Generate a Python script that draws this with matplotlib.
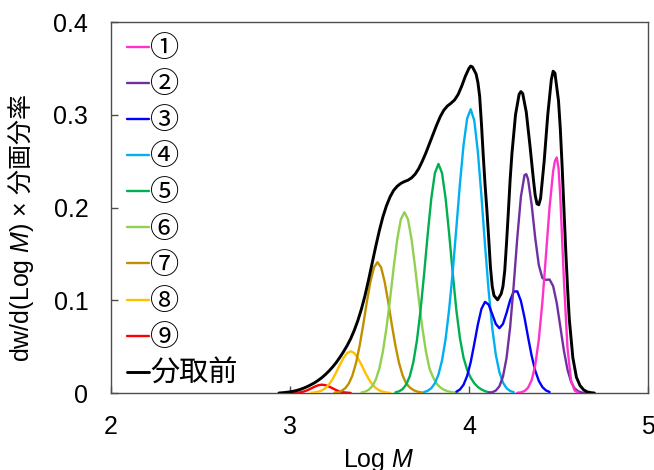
import matplotlib
matplotlib.use('Agg')
from matplotlib import pyplot as plt

# fraction curves (Log M, dw/d(Log M) x fraction ratio)
f1_x = [4.27, 4.29, 4.31, 4.33, 4.35, 4.37, 4.39, 4.41, 4.43, 4.45, 4.47, 4.48, 4.49, 4.50, 4.51, 4.53, 4.55, 4.57, 4.59, 4.61]
f1_y = [0.0002, 0.0007, 0.0021, 0.0057, 0.0138, 0.0299, 0.0575, 0.0981, 0.1487, 0.2002, 0.2393, 0.2502, 0.2540, 0.2426, 0.2114, 0.1218, 0.0486, 0.0135, 0.0026, 0.0003]

f2_x = [4.11, 4.13, 4.15, 4.17, 4.19, 4.21, 4.23, 4.25, 4.27, 4.29, 4.31, 4.32, 4.33, 4.35, 4.37, 4.39, 4.41, 4.43, 4.45, 4.47, 4.49, 4.51, 4.53, 4.55, 4.57, 4.59, 4.61, 4.63, 4.65]
f2_y = [0.0002, 0.0008, 0.0026, 0.0072, 0.0177, 0.0378, 0.0709, 0.1164, 0.1675, 0.2115, 0.2348, 0.2360, 0.2305, 0.2032, 0.1672, 0.1380, 0.1239, 0.1220, 0.1224, 0.1153, 0.0972, 0.0716, 0.0457, 0.0253, 0.0121, 0.0050, 0.0018, 0.0005, 0.0001]

f3_x = [3.93, 3.95, 3.97, 3.99, 4.01, 4.03, 4.05, 4.07, 4.09, 4.11, 4.13, 4.15, 4.17, 4.19, 4.21, 4.23, 4.25, 4.27, 4.29, 4.31, 4.33, 4.35, 4.37, 4.39, 4.41, 4.43, 4.45]
f3_y = [0.0014, 0.0038, 0.0089, 0.0184, 0.0333, 0.0531, 0.0740, 0.0908, 0.0983, 0.0953, 0.0851, 0.0745, 0.0699, 0.0745, 0.0863, 0.1001, 0.1094, 0.1096, 0.0994, 0.0815, 0.0603, 0.0402, 0.0241, 0.0131, 0.0064, 0.0028, 0.0011]

f4_x = [3.75, 3.77, 3.79, 3.81, 3.83, 3.85, 3.87, 3.89, 3.91, 3.93, 3.95, 3.97, 3.99, 4.01, 4.03, 4.05, 4.07, 4.09, 4.11, 4.13, 4.15, 4.17, 4.19, 4.21, 4.23, 4.25]
f4_y = [0.0010, 0.0024, 0.0052, 0.0105, 0.0199, 0.0352, 0.0584, 0.0909, 0.1316, 0.1784, 0.2258, 0.2674, 0.2959, 0.3060, 0.2938, 0.2598, 0.2121, 0.1591, 0.1105, 0.0704, 0.0413, 0.0225, 0.0112, 0.0052, 0.0022, 0.0009]

f5_x = [3.59, 3.61, 3.63, 3.65, 3.67, 3.69, 3.71, 3.73, 3.75, 3.77, 3.79, 3.81, 3.83, 3.85, 3.87, 3.89, 3.91, 3.93, 3.95, 3.97, 3.99, 4.01, 4.03, 4.05, 4.07, 4.09, 4.11, 4.13]
f5_y = [0.0007, 0.0018, 0.0042, 0.0091, 0.0181, 0.0333, 0.0568, 0.0892, 0.1284, 0.1712, 0.2097, 0.2371, 0.2470, 0.2371, 0.2097, 0.1712, 0.1284, 0.0892, 0.0590, 0.0380, 0.0250, 0.0165, 0.0105, 0.0065, 0.0038, 0.0020, 0.0009, 0.0003]

f6_x = [3.40, 3.42, 3.44, 3.46, 3.48, 3.50, 3.52, 3.54, 3.56, 3.58, 3.60, 3.62, 3.64, 3.66, 3.68, 3.70, 3.72, 3.74, 3.76, 3.78, 3.80, 3.82, 3.84, 3.86, 3.88, 3.90, 3.92, 3.94]
f6_y = [0.0005, 0.0014, 0.0033, 0.0072, 0.0143, 0.0263, 0.0449, 0.0704, 0.1014, 0.1351, 0.1656, 0.1872, 0.1950, 0.1872, 0.1656, 0.1351, 0.1014, 0.0704, 0.0449, 0.0263, 0.0170, 0.0100, 0.0060, 0.0035, 0.0020, 0.0010, 0.0005, 0.0002]

f7_x = [3.25, 3.27, 3.29, 3.31, 3.33, 3.35, 3.37, 3.39, 3.41, 3.43, 3.45, 3.47, 3.49, 3.51, 3.53, 3.55, 3.57, 3.59, 3.61, 3.63, 3.65, 3.67, 3.69, 3.71, 3.73, 3.75]
f7_y = [0.0004, 0.0010, 0.0024, 0.0052, 0.0103, 0.0190, 0.0324, 0.0509, 0.0733, 0.0977, 0.1197, 0.1354, 0.1410, 0.1354, 0.1197, 0.0977, 0.0733, 0.0509, 0.0324, 0.0190, 0.0103, 0.0060, 0.0032, 0.0016, 0.0008, 0.0003]

f8_x = [3.12, 3.14, 3.16, 3.18, 3.20, 3.22, 3.24, 3.26, 3.28, 3.30, 3.32, 3.34, 3.36, 3.38, 3.40, 3.42, 3.44, 3.46, 3.48, 3.50, 3.52, 3.54, 3.56]
f8_y = [0.0002, 0.0006, 0.0014, 0.0028, 0.0054, 0.0095, 0.0153, 0.0225, 0.0305, 0.0378, 0.0431, 0.0450, 0.0431, 0.0378, 0.0305, 0.0225, 0.0153, 0.0095, 0.0054, 0.0028, 0.0014, 0.0006, 0.0002]

f9_x = [3.02, 3.04, 3.06, 3.08, 3.10, 3.12, 3.14, 3.16, 3.18, 3.20, 3.22, 3.24, 3.26, 3.28, 3.30, 3.32, 3.34]
f9_y = [0.0001, 0.0004, 0.0008, 0.0017, 0.0031, 0.0050, 0.0069, 0.0084, 0.0090, 0.0084, 0.0069, 0.0050, 0.0031, 0.0017, 0.0008, 0.0004, 0.0001]

# before fractionation
all_x = [2.94, 2.96, 2.98, 3.00, 3.02, 3.04, 3.06, 3.08, 3.10, 3.12, 3.14, 3.16, 3.18, 3.20,
         3.22, 3.24, 3.26, 3.28, 3.30, 3.32, 3.34, 3.36, 3.38, 3.40, 3.42, 3.44, 3.46, 3.48,
         3.50, 3.52, 3.54, 3.56, 3.58, 3.60, 3.62, 3.64, 3.66, 3.68, 3.70, 3.72, 3.74, 3.76,
         3.78, 3.80, 3.82, 3.84, 3.86, 3.88, 3.90, 3.92, 3.94, 3.96, 3.98, 4.00, 4.01, 4.02,
         4.04, 4.05, 4.06, 4.07, 4.08, 4.09, 4.10, 4.11, 4.12, 4.13, 4.14, 4.16, 4.18, 4.19,
         4.20, 4.21, 4.22, 4.23, 4.24, 4.26, 4.28, 4.29, 4.30, 4.32, 4.34, 4.36, 4.37, 4.38,
         4.39, 4.40, 4.42, 4.44, 4.46, 4.47, 4.48, 4.50, 4.51, 4.52, 4.53, 4.54, 4.55, 4.56,
         4.58, 4.60, 4.62, 4.64, 4.66, 4.68, 4.70]
all_y = [0.0000, 0.0003, 0.0007, 0.0012, 0.0019, 0.0028, 0.0040, 0.0054, 0.0071, 0.0091, 0.0112, 0.0138, 0.0167, 0.0201,
         0.0239, 0.0282, 0.0330, 0.0385, 0.0445, 0.0510, 0.0585, 0.0675, 0.0780, 0.0905, 0.1050, 0.1220, 0.1400, 0.1580,
         0.1750, 0.1900, 0.2020, 0.2115, 0.2185, 0.2230, 0.2260, 0.2280, 0.2295, 0.2320, 0.2360, 0.2420, 0.2500, 0.2590,
         0.2690, 0.2790, 0.2890, 0.2980, 0.3050, 0.3095, 0.3125, 0.3160, 0.3220, 0.3310, 0.3415, 0.3500, 0.3525, 0.3515,
         0.3440, 0.3350, 0.3200, 0.2900, 0.2560, 0.2250, 0.1980, 0.1680, 0.1360, 0.1150, 0.1050, 0.1005, 0.1070, 0.1150,
         0.1320, 0.1620, 0.1950, 0.2300, 0.2580, 0.3000, 0.3220, 0.3250, 0.3230, 0.3030, 0.2680, 0.2300, 0.2130, 0.2040,
         0.2030, 0.2100, 0.2500, 0.3000, 0.3380, 0.3470, 0.3450, 0.3150, 0.2850, 0.2450, 0.2000, 0.1550, 0.1150, 0.0800,
         0.0380, 0.0170, 0.0080, 0.0035, 0.0012, 0.0004, 0.0000]

labels = ['①', '②', '③', '④', '⑤', '⑥', '⑦', '⑧', '⑨', '分取前']
colors = ['#FF33CC', '#7030A0', '#0000FF', '#00B0F0', '#00B050',
          '#92D050', '#BF9000', '#FFC000', '#FF0000', '#000000']

plt.rcParams['font.family'] = ['Liberation Sans', 'Noto Sans CJK JP']
plt.rcParams['mathtext.fontset'] = 'custom'
plt.rcParams['mathtext.rm'] = 'Noto Sans CJK JP'
plt.rcParams['mathtext.it'] = 'Liberation Sans:italic'

fig = plt.figure(figsize=(6.54, 4.70), dpi=100)
ax = fig.add_axes([0.169, 0.1638, 0.822, 0.7893])

series = [(f1_x, f1_y), (f2_x, f2_y), (f3_x, f3_y), (f4_x, f4_y), (f5_x, f5_y),
          (f6_x, f6_y), (f7_x, f7_y), (f8_x, f8_y), (f9_x, f9_y), (all_x, all_y)]
handles = []
for i, (xs, ys) in enumerate(series):
    lw = 2.1 if i == 9 else 1.7
    line, = ax.plot(xs, ys, color=colors[i], lw=lw, solid_joinstyle='round',
                    solid_capstyle='round', zorder=10 - i if i < 9 else 11)
    handles.append(line)

ax.set_xlim(2, 5)
ax.set_ylim(0, 0.4)
ax.set_xticks([2, 3, 4, 5])
ax.set_yticks([0, 0.1, 0.2, 0.3, 0.4])
ax.set_yticklabels(['0', '0.1', '0.2', '0.3', '0.4'])
ax.tick_params(direction='in', length=5, width=1, color='#4d4d4d',
               labelsize=18, pad=16)
for s in ax.spines.values():
    s.set_color('#4d4d4d')
    s.set_linewidth(1.0)

ax.legend(handles, labels, loc='upper left', bbox_to_anchor=(0.03, 0.968),
          frameon=False, prop={'family': ['Noto Sans CJK JP'], 'size': 21},
          handlelength=0.75, handletextpad=0.05, labelspacing=0.21,
          borderpad=0, borderaxespad=0)

fig.text(21 / 654, 1 - 228 / 470, 'dw/d(Log $\\mathit{M}$) × $\\mathrm{分画分率}$',
         rotation=90, ha='center', va='center', fontsize=18)
fig.text(379 / 654, 3 / 470, 'Log $\\mathit{M}$', ha='center', va='baseline', fontsize=18)

fig.savefig('out.png', dpi=100)
